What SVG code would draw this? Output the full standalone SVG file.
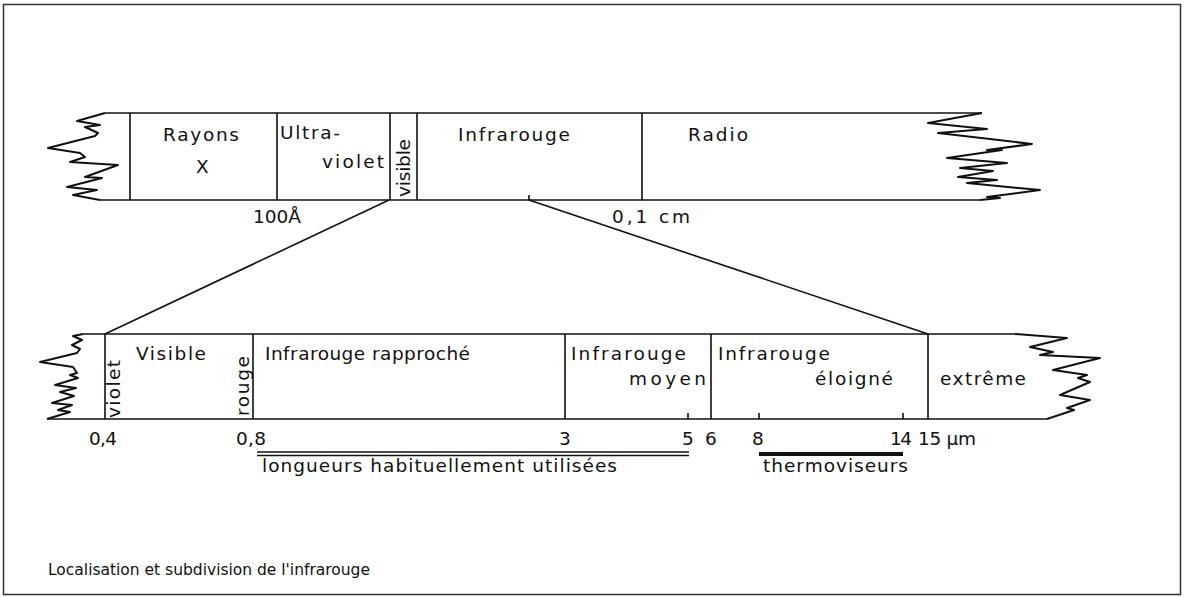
<svg xmlns="http://www.w3.org/2000/svg" width="1184" height="597" viewBox="0 0 1184 597">
<style>
.ln{stroke:#111;stroke-width:1.6;fill:none;stroke-linejoin:round}
.zz{stroke:#111;stroke-width:2;fill:none;stroke-linejoin:round}
.t{font-family:"DejaVu Sans","Liberation Sans",sans-serif;font-size:18.5px;fill:#111}
.s{font-family:"DejaVu Sans","Liberation Sans",sans-serif;font-size:15.5px;fill:#111}
</style>
<rect x="0" y="0" width="1184" height="597" fill="#fff"/>
<rect x="3.5" y="4.5" width="1177" height="590" fill="none" stroke="#333" stroke-width="1.5"/>

<g id="top-band">
<polyline class="ln" points="105,113 982,113"/>
<polyline class="ln" points="100,200 980,200"/>
<polyline class="zz" points="105,113 77,121 100,125 85,127 98,133 95,136 48,148 80,153 85,157 70,162 118,165 85,177 102,178 67,187 97,190 73,195 100,200"/>
<polyline class="zz" points="982,113 928,123 987,129 938,133 1032,144 987,150 1002,150 947,158 1007,163 960,168 993,171 958,177 997,180 967,183 1040,190 987,197 1000,198 980,200"/>
<line class="ln" x1="130" y1="113" x2="130" y2="200"/>
<line class="ln" x1="277" y1="113" x2="277" y2="200"/>
<line class="ln" x1="390" y1="113" x2="390" y2="200"/>
<line class="ln" x1="417" y1="113" x2="417" y2="200"/>
<line class="ln" x1="642" y1="113" x2="642" y2="200"/>
<line class="ln" x1="529" y1="195" x2="529" y2="200"/>
</g>
<g id="top-labels">
<text class="t" x="163" y="141" textLength="76" lengthAdjust="spacing">Rayons</text>
<text class="t" x="196" y="173">X</text>
<text class="t" x="280" y="139" textLength="60" lengthAdjust="spacing">Ultra-</text>
<text class="t" x="322" y="168" textLength="62" lengthAdjust="spacing">violet</text>
<text class="t" transform="translate(410,197) rotate(-90)" textLength="58" lengthAdjust="spacing">visible</text>
<text class="t" x="458" y="141" textLength="112" lengthAdjust="spacing">Infrarouge</text>
<text class="t" x="688" y="141" textLength="60" lengthAdjust="spacing">Radio</text>
<text class="t" x="253" y="223" textLength="48" lengthAdjust="spacing">100Å</text>
<text class="t" x="612" y="223" textLength="78" lengthAdjust="spacing">0,1 cm</text>
</g>

<g id="connectors">
<line class="ln" x1="389" y1="200" x2="105" y2="334" stroke-width="1.3"/>
<line class="ln" x1="529" y1="200" x2="928" y2="334" stroke-width="1.3"/>
</g>

<g id="bottom-band">
<polyline class="ln" points="83,334 1015,334"/>
<polyline class="ln" points="47,419 1047,419"/>
<polyline class="zz" points="83,334 73,336 82,340 72,345 80,349 77,353 40,362 73,367 77,373 70,375 78,378 55,385 76,388 60,392 74,396 52,403 72,405 58,410 70,412 47,419"/>
<polyline class="zz" points="1015,334 1067,338 1030,347 1053,352 1040,355 1100,358 1053,370 1087,375 1078,378 1090,382 1060,395 1090,400 1067,408 1074,410 1047,419"/>
<line class="ln" x1="105" y1="334" x2="105" y2="419"/>
<line class="ln" x1="253" y1="334" x2="253" y2="419"/>
<line class="ln" x1="565" y1="334" x2="565" y2="419"/>
<line class="ln" x1="711" y1="334" x2="711" y2="419"/>
<line class="ln" x1="928" y1="334" x2="928" y2="419"/>
<line class="ln" x1="688" y1="413" x2="688" y2="419"/>
<line class="ln" x1="759" y1="413" x2="759" y2="419"/>
<line class="ln" x1="903" y1="413" x2="903" y2="419"/>
</g>
<g id="bottom-labels">
<text class="t" transform="translate(120,418) rotate(-90)" textLength="58" lengthAdjust="spacing">violet</text>
<text class="t" x="136" y="360" textLength="70" lengthAdjust="spacing">Visible</text>
<text class="t" transform="translate(249,416) rotate(-90)" textLength="60" lengthAdjust="spacing">rouge</text>
<text class="t" x="265" y="360" textLength="205" lengthAdjust="spacing">Infrarouge rapproché</text>
<text class="t" x="571" y="360" textLength="115" lengthAdjust="spacing">Infrarouge</text>
<text class="t" x="629" y="385" textLength="77" lengthAdjust="spacing">moyen</text>
<text class="t" x="718" y="360" textLength="112" lengthAdjust="spacing">Infrarouge</text>
<text class="t" x="815" y="385" textLength="78" lengthAdjust="spacing">éloigné</text>
<text class="t" x="940" y="385" textLength="86" lengthAdjust="spacing">extrême</text>
<text class="t" x="89" y="445" textLength="28" lengthAdjust="spacing">0,4</text>
<text class="t" x="236" y="445" textLength="30" lengthAdjust="spacing">0,8</text>
<text class="t" x="559" y="445">3</text>
<text class="t" x="682" y="445">5</text>
<text class="t" x="705" y="445">6</text>
<text class="t" x="752" y="445">8</text>
<text class="t" x="890" y="445" textLength="22" lengthAdjust="spacing">14</text>
<text class="t" x="918" y="445" textLength="58" lengthAdjust="spacing">15 µm</text>
<line x1="257" y1="452" x2="689" y2="452" stroke="#111" stroke-width="1.5"/>
<line x1="257" y1="455.5" x2="689" y2="455.5" stroke="#111" stroke-width="1.5"/>
<line x1="759" y1="454" x2="903" y2="454" stroke="#111" stroke-width="4"/>
<text class="t" x="262" y="472" textLength="355" lengthAdjust="spacing">longueurs habituellement utilisées</text>
<text class="t" x="763" y="472" textLength="145" lengthAdjust="spacing">thermoviseurs</text>
</g>
<text class="s" x="48" y="575" textLength="322" lengthAdjust="spacing">Localisation et subdivision de l'infrarouge</text>
</svg>
